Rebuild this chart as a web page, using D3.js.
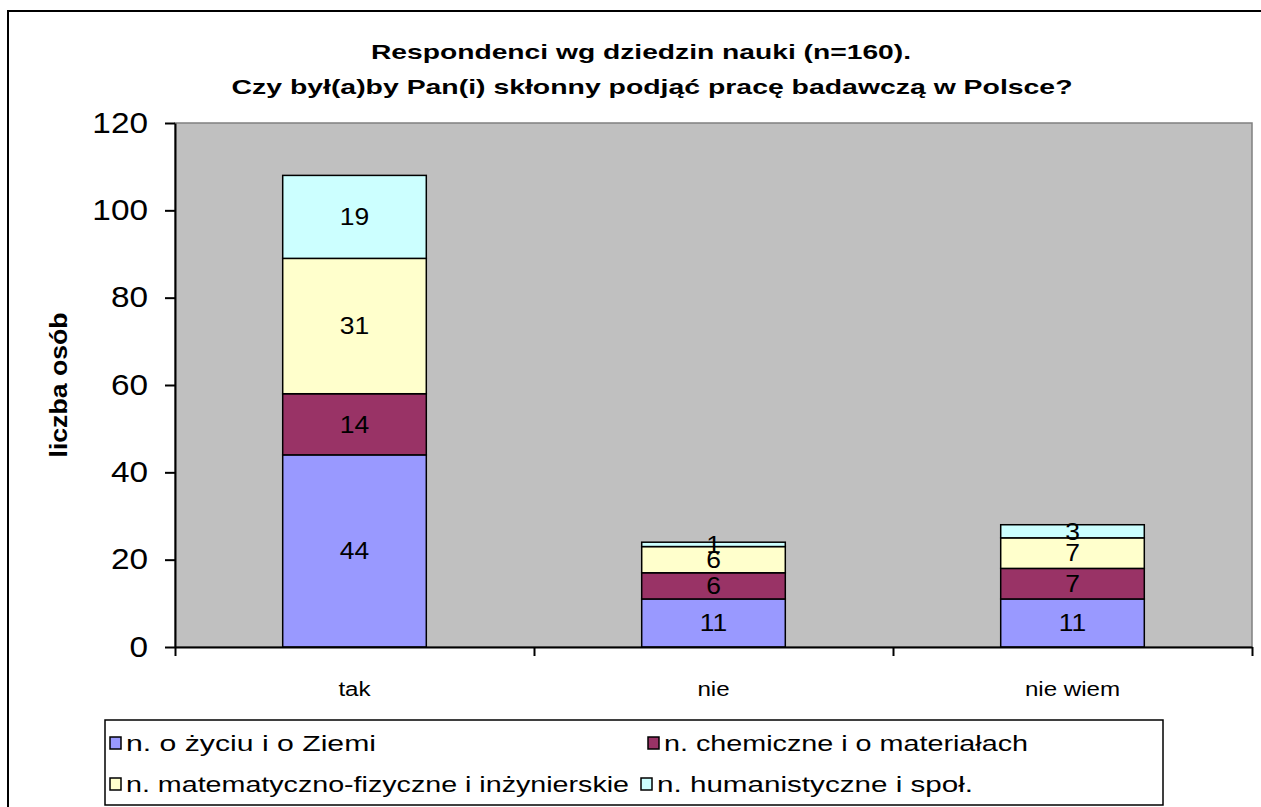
<!DOCTYPE html>
<html lang="pl">
<head>
    <meta charset="UTF-8">
    <script src="https://d3js.org/d3.v7.min.js"></script>
    <style>
        body { margin: 0; background: #fff; }
        text { font-family: "Liberation Sans", Arial, sans-serif; fill: #000; }
    </style>
    <title>D3</title>
</head>
<body>
    <div class="canvas"></div>
    <script>
        // data
        const categories = ['tak', 'nie', 'nie wiem']
        const seriesNames = [
            'n. o życiu i o Ziemi',
            'n. chemiczne i o materiałach',
            'n. matematyczno-fizyczne i inżynierskie',
            'n. humanistyczne i społ.'
        ]
        const zycie = [44, 11, 11]
        const chemia = [14, 6, 7]
        const matfiz = [31, 6, 7]
        const human = [19, 1, 3]
        const yTicks = [0, 20, 40, 60, 80, 100, 120]

        const colors = ['#9999FF', '#993366', '#FFFFCC', '#CCFFFF']

        const areaWidth = 1261
        const areaHeight = 807
        const svg = d3.select('.canvas')
            .append('svg')
            .attr('width', areaWidth)
            .attr('height', areaHeight)

        // outer chart frame
        svg.append('rect')
            .attr('x', 8).attr('y', 11)
            .attr('width', 1300).attr('height', 900)
            .attr('fill', 'none')
            .attr('stroke', '#000')
            .attr('stroke-width', 2)

        const [pl, pr, pt, pb] = [175, 1252, 123, 647]

        const rows = categories.map((c, i) => ({
            cat: c, s0: zycie[i], s1: chemia[i], s2: matfiz[i], s3: human[i]
        }))
        const stack = d3.stack().keys(['s0', 's1', 's2', 's3'])
        const layers = stack(rows)

        const x = d3.scaleBand()
            .domain(categories)
            .range([pl, pr])
            .paddingInner(0.6)
            .paddingOuter(0.3)

        const xEdge = d3.scaleLinear().domain([0, categories.length]).range([pl, pr])

        const y = d3.scaleLinear()
            .domain([0, 120])
            .range([pb, pt])

        // plot area
        svg.append('rect')
            .attr('x', pl).attr('y', pt)
            .attr('width', pr - pl).attr('height', pb - pt)
            .attr('fill', '#C0C0C0')
            .attr('stroke', '#808080')
            .attr('stroke-width', 1.5)

        const sx = 1.15

        // bars
        const layerG = svg.selectAll('g.layer').data(layers)
            .enter().append('g')
            .attr('class', 'layer')
            .attr('fill', (d, i) => colors[i])

        layerG.selectAll('rect').data(d => d)
            .enter().append('rect')
            .attr('x', d => x(d.data.cat))
            .attr('y', d => y(d[1]))
            .attr('width', x.bandwidth())
            .attr('height', d => y(d[0]) - y(d[1]))
            .attr('stroke', '#000')
            .attr('stroke-width', 1.5)

        layerG.selectAll('text').data(d => d)
            .enter().append('text')
            .attr('transform', d => `translate(${x(d.data.cat) + x.bandwidth() / 2},${(y(d[0]) + y(d[1])) / 2}) scale(${sx},1)`)
            .attr('text-anchor', 'middle')
            .attr('dy', '0.36em')
            .style('font-size', '23px')
            .text(d => d[1] - d[0])

        // y axis
        const yAxis = d3.axisLeft(y).tickValues(yTicks).tickSize(10).tickSizeOuter(0)
        const yAxisG = svg.append('g')
            .attr('transform', `translate(${pl},0)`)
            .call(yAxis)
        yAxisG.select('.domain').attr('stroke', '#000').attr('stroke-width', 2)
        yAxisG.selectAll('.tick line').attr('stroke', '#000').attr('stroke-width', 2)
        yAxisG.selectAll('.tick text')
            .attr('x', -27 / sx)
            .attr('transform', `scale(${sx},1)`)
            .style('font-size', '29px')
            .style('font-family', '"Liberation Sans", Arial, sans-serif')
            .attr('fill', '#000')

        // x axis: ticks on category edges
        const xAxis = d3.axisBottom(xEdge)
            .tickValues(d3.range(categories.length + 1))
            .tickFormat('')
            .tickSize(9)
            .tickSizeOuter(0)
        const xAxisG = svg.append('g')
            .attr('transform', `translate(0,${pb})`)
            .call(xAxis)
        xAxisG.select('.domain').attr('stroke', '#000').attr('stroke-width', 2)
        xAxisG.selectAll('.tick line').attr('stroke', '#000').attr('stroke-width', 2)

        svg.selectAll('text.cat').data(categories)
            .enter().append('text')
            .attr('class', 'cat')
            .attr('transform', d => `translate(${x(d) + x.bandwidth() / 2},696) scale(${sx},1)`)
            .attr('text-anchor', 'middle')
            .style('font-size', '21px')
            .text(d => d)

        // title
        svg.append('text')
            .attr('x', 641).attr('y', 59)
            .attr('text-anchor', 'middle')
            .attr('textLength', 540)
            .attr('lengthAdjust', 'spacingAndGlyphs')
            .style('font-size', '21px')
            .style('font-weight', 'bold')
            .text('Respondenci wg dziedzin nauki (n=160).')
        svg.append('text')
            .attr('x', 652).attr('y', 94)
            .attr('text-anchor', 'middle')
            .attr('textLength', 841)
            .attr('lengthAdjust', 'spacingAndGlyphs')
            .style('font-size', '21px')
            .style('font-weight', 'bold')
            .text('Czy był(a)by Pan(i) skłonny podjąć pracę badawczą w Polsce?')

        // y axis title
        svg.append('text')
            .attr('transform', 'translate(67,385) rotate(-90)')
            .attr('text-anchor', 'middle')
            .attr('textLength', 145)
            .attr('lengthAdjust', 'spacingAndGlyphs')
            .style('font-size', '24px')
            .style('font-weight', 'bold')
            .text('liczba osób')

        // legend
        svg.append('rect')
            .attr('x', 105).attr('y', 720)
            .attr('width', 1058).attr('height', 85)
            .attr('fill', '#fff')
            .attr('stroke', '#000')
            .attr('stroke-width', 1.5)

        const legendPos = [[110, 743], [648, 743], [110, 784], [641, 784]]
        const legendLen = [250, 364, 503, 316]
        const legend = svg.selectAll('g.leg').data(seriesNames)
            .enter().append('g')
            .attr('class', 'leg')
            .attr('transform', (d, i) => `translate(${legendPos[i][0]},${legendPos[i][1]})`)
        legend.append('rect')
            .attr('x', 0).attr('y', -6)
            .attr('width', 11).attr('height', 12)
            .attr('fill', (d, i) => colors[i])
            .attr('stroke', '#000')
            .attr('stroke-width', 1.5)
        legend.append('text')
            .attr('x', 16).attr('dy', '0.35em')
            .attr('textLength', (d, i) => legendLen[i])
            .attr('lengthAdjust', 'spacingAndGlyphs')
            .style('font-size', '22px')
            .text(d => d)
    </script>
</body>
</html>
